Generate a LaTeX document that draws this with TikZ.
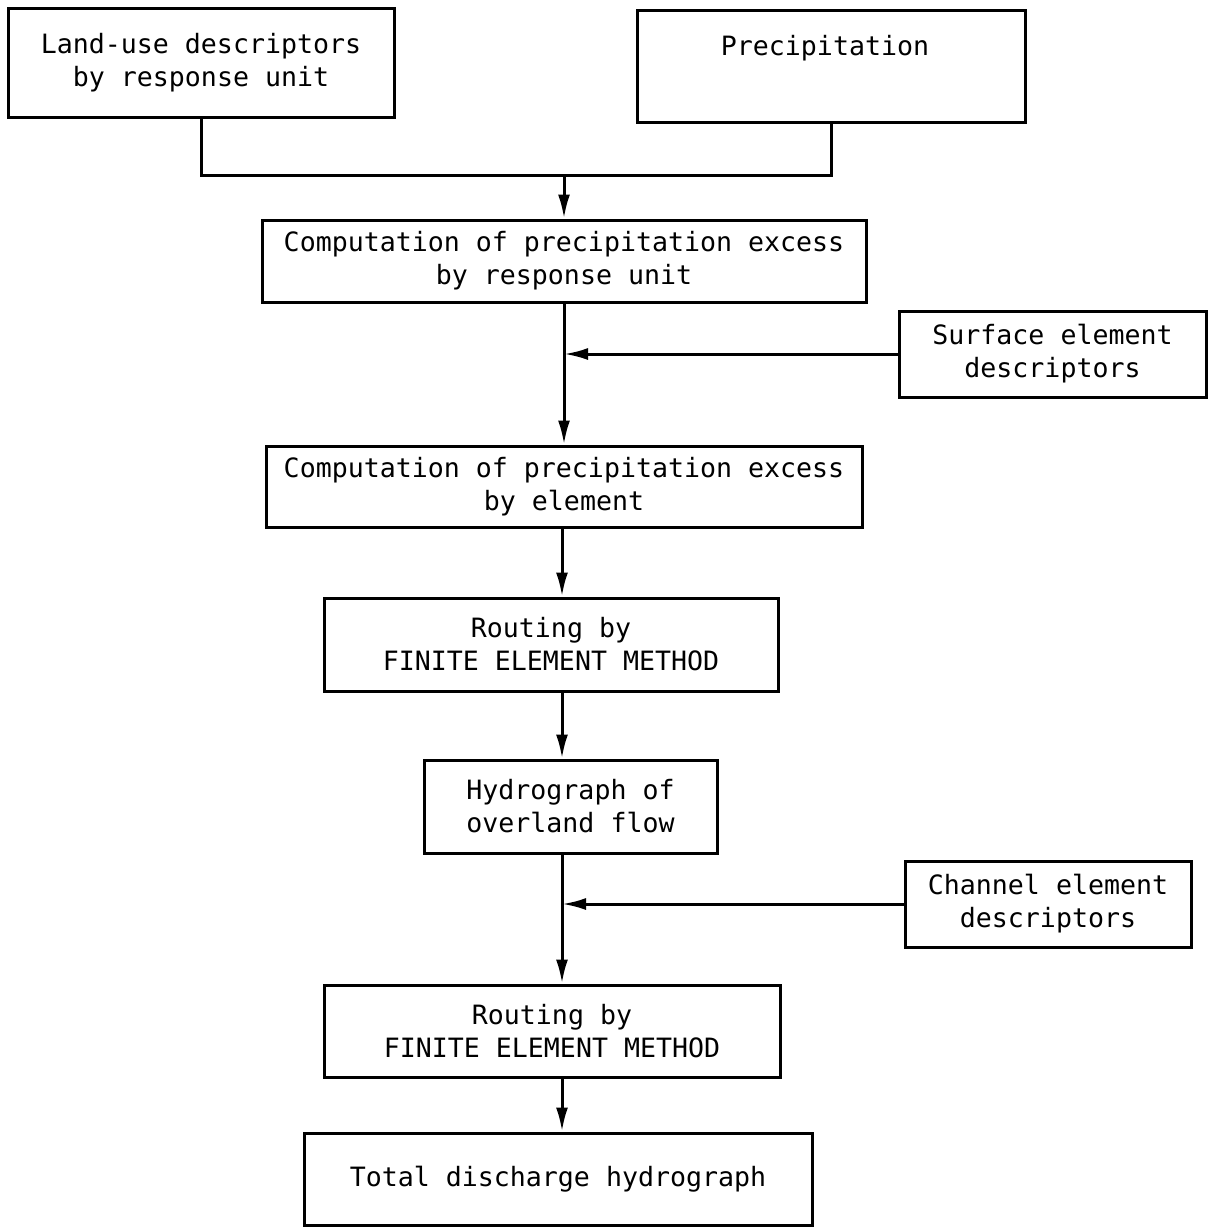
\documentclass[tikz,border=0pt]{standalone}
\usepackage{fontspec}
\setmonofont{DejaVu Sans Mono}
\usetikzlibrary{arrows.meta}
\begin{document}
\begin{tikzpicture}[x=0.5pt,y=-0.5pt,
  box/.style={draw, line width=1.5pt, align=center, inner sep=0pt,
    font=\ttfamily\fontsize{13.3}{16.5}\selectfont},
  txt/.style={inner sep=0pt, align=center, font=\ttfamily\fontsize{13.3}{16.5}\selectfont},
  conn/.style={line width=1.5pt},
  arr/.style={line width=1.5pt, -{Latex[length=12pt,width=6pt]}}]
\useasboundingbox (0,0) rectangle (1208,1228);
\node[box, minimum width=193pt, minimum height=54.5pt] (land) at (201,62.5)
  {Land-use descriptors\\by response unit};
\node[box, minimum width=194pt, minimum height=56pt] (precip) at (831,66) {};
\node[txt] (preciptxt) at (825,48) {Precipitation};
\node[box, minimum width=302pt, minimum height=41pt] (comp1) at (564,261)
  {Computation of precipitation excess\\by response unit};
\node[box, minimum width=153.5pt, minimum height=43pt] (surf) at (1052.5,354)
  {Surface element\\descriptors};
\node[box, minimum width=298pt, minimum height=40.5pt] (comp2) at (564,486.5)
  {Computation of precipitation excess\\by element};
\node[box, minimum width=227pt, minimum height=46.5pt] (rout1) at (551,644.5)
  {Routing by\\FINITE ELEMENT METHOD};
\node[box, minimum width=146.5pt, minimum height=46.5pt] (hydro) at (570.5,806.5)
  {Hydrograph of\\overland flow};
\node[box, minimum width=143pt, minimum height=43pt] (chan) at (1048,904)
  {Channel element\\descriptors};
\node[box, minimum width=228pt, minimum height=46pt] (rout2) at (552,1031)
  {Routing by\\FINITE ELEMENT METHOD};
\node[box, minimum width=254pt, minimum height=46pt] (total) at (558,1179)
  {Total discharge hydrograph};
\coordinate (join) at (564,175);
\coordinate (spine) at (562,0);
\draw[conn] (land.south) |- (join) -| (precip.south);
\draw[arr] (join) -- (comp1.north);
\draw[arr] (comp1.south) -- (comp2.north);
\draw[arr] (surf.west) -- (surf.west -| comp1.south);
\draw[arr] (comp2.south -| spine) -- (rout1.north -| spine);
\draw[arr] (rout1.south -| spine) -- (hydro.north -| spine);
\draw[arr] (hydro.south -| spine) -- (rout2.north -| spine);
\draw[arr] (chan.west) -- (chan.west -| spine);
\draw[arr] (rout2.south -| spine) -- (total.north -| spine);
\end{tikzpicture}
\end{document}
